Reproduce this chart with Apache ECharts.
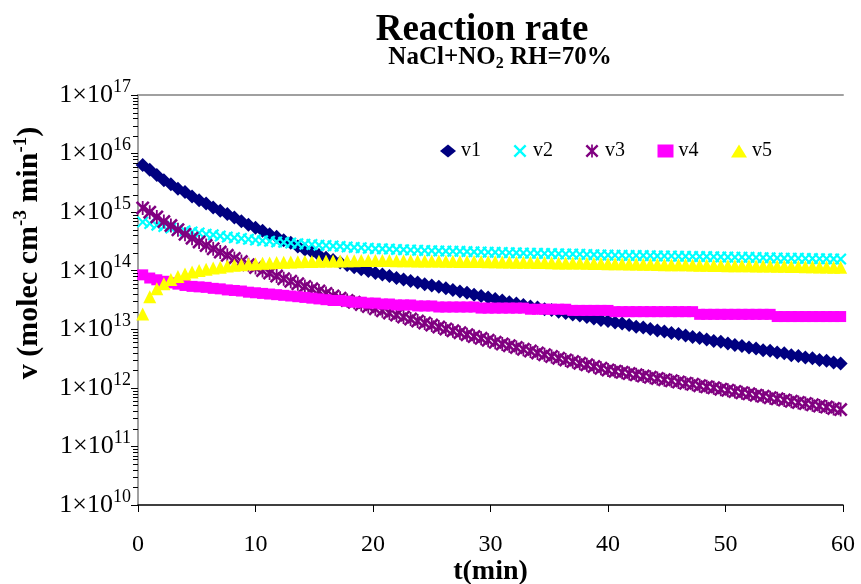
<!DOCTYPE html>
<html><head><meta charset="utf-8">
<script src="https://cdn.jsdelivr.net/npm/echarts@6/dist/echarts.min.js"></script>
<style>html,body{margin:0;padding:0;background:#fff}#c{width:861px;height:584px}</style>
</head><body><div id="c"></div>
<script>
// time (min)
const tMin = [0.4,1.0,1.6,2.2,2.8,3.4,4.0,4.6,5.2,5.8,6.4,7.0,7.6,8.2,8.8,9.4,10.0,10.6,11.2,11.8,
12.4,13.0,13.6,14.2,14.8,15.4,16.0,16.6,17.2,17.8,18.4,19.0,19.6,20.2,20.8,21.4,22.0,22.6,23.2,23.8,
24.4,25.0,25.6,26.2,26.8,27.4,28.0,28.6,29.2,29.8,30.4,31.0,31.6,32.2,32.8,33.4,34.0,34.6,35.2,35.8,
36.4,37.0,37.6,38.2,38.8,39.4,40.0,40.6,41.2,41.8,42.4,43.0,43.6,44.2,44.8,45.4,46.0,46.6,47.2,47.8,
48.4,49.0,49.6,50.2,50.8,51.4,52.0,52.6,53.2,53.8,54.4,55.0,55.6,56.2,56.8,57.4,58.0,58.6,59.2,59.8];

const v1 = [6.4e15,5.3e15,4.3e15,3.5e15,3.0e15,2.5e15,2.2e15,1.85e15,1.6e15,1.4e15,
1.2e15,1.06e15,9.3e14,8.1e14,7.0e14,6.1e14,5.4e14,4.8e14,4.2e14,3.8e14,
3.3e14,3.0e14,2.6e14,2.3e14,2.1e14,1.85e14,1.67e14,1.52e14,1.38e14,1.25e14,
1.15e14,1.06e14,9.9e13,9.1e13,8.6e13,8.1e13,7.5e13,7.1e13,6.7e13,6.3e13,
5.9e13,5.6e13,5.3e13,5.0e13,4.7e13,4.4e13,4.2e13,3.9e13,3.7e13,3.5e13,
3.3e13,3.1e13,2.9e13,2.75e13,2.6e13,2.45e13,2.35e13,2.2e13,2.13e13,2.0e13,
1.9e13,1.78e13,1.72e13,1.62e13,1.53e13,1.44e13,1.38e13,1.3e13,1.25e13,1.18e13,
1.11e13,1.07e13,1.01e13,9.5e12,9.2e12,8.6e12,8.3e12,7.8e12,7.4e12,7.1e12,
6.7e12,6.3e12,6.1e12,5.7e12,5.4e12,5.2e12,4.9e12,4.7e12,4.4e12,4.3e12,
4.0e12,3.9e12,3.6e12,3.5e12,3.3e12,3.2e12,3.0e12,2.9e12,2.7e12,2.6e12];

const v2 = [6.8e14,6.4e14,6.0e14,5.7e14,5.35e14,5.1e14,4.8e14,4.6e14,4.4e14,4.2e14,
4.1e14,3.9e14,3.75e14,3.65e14,3.55e14,3.45e14,3.35e14,3.25e14,3.2e14,3.1e14,
3.05e14,2.97e14,2.9e14,2.84e14,2.8e14,2.73e14,2.69e14,2.64e14,2.6e14,2.55e14,
2.5e14,2.47e14,2.42e14,2.38e14,2.36e14,2.34e14,2.31e14,2.29e14,2.26e14,2.24e14,
2.21e14,2.19e14,2.18e14,2.16e14,2.15e14,2.14e14,2.12e14,2.1e14,2.09e14,2.07e14,
2.06e14,2.05e14,2.03e14,2.02e14,2.0e14,1.99e14,1.98e14,1.97e14,1.96e14,1.94e14,
1.93e14,1.92e14,1.91e14,1.89e14,1.88e14,1.86e14,1.85e14,1.84e14,1.83e14,1.82e14,
1.82e14,1.81e14,1.8e14,1.79e14,1.78e14,1.78e14,1.77e14,1.76e14,1.75e14,1.74e14,
1.74e14,1.73e14,1.72e14,1.71e14,1.7e14,1.7e14,1.69e14,1.68e14,1.67e14,1.66e14,
1.65e14,1.64e14,1.63e14,1.63e14,1.62e14,1.61e14,1.6e14,1.6e14,1.59e14,1.58e14];

const v3 = [1.18e15,1.0e15,8.3e14,6.9e14,5.9e14,5.0e14,4.2e14,3.6e14,3.1e14,2.7e14,
2.37e14,2.08e14,1.83e14,1.62e14,1.43e14,1.27e14,1.13e14,1.01e14,9.1e13,8.1e13,
7.3e13,6.6e13,6.0e13,5.4e13,4.9e13,4.5e13,4.1e13,3.7e13,3.4e13,3.1e13,
2.9e13,2.65e13,2.44e13,2.24e13,2.07e13,1.9e13,1.75e13,1.62e13,1.5e13,1.38e13,
1.28e13,1.18e13,1.09e13,1.01e13,9.4e12,8.75e12,8.1e12,7.5e12,7.0e12,6.5e12,
6.0e12,5.6e12,5.25e12,4.9e12,4.56e12,4.25e12,3.95e12,3.68e12,3.43e12,3.21e12,
3.0e12,2.81e12,2.62e12,2.47e12,2.31e12,2.16e12,2.02e12,1.93e12,1.84e12,1.75e12,
1.67e12,1.59e12,1.52e12,1.45e12,1.38e12,1.32e12,1.26e12,1.2e12,1.15e12,1.09e12,
1.04e12,1.0e12,9.5e11,9.1e11,8.65e11,8.25e11,7.9e11,7.5e11,7.2e11,6.8e11,
6.5e11,6.2e11,5.9e11,5.65e11,5.4e11,5.15e11,4.9e11,4.7e11,4.46e11,4.26e11];

const v4 = [8.5e13,7.5e13,7.0e13,6.6e13,6.2e13,5.9e13,5.6e13,5.4e13,5.3e13,5.2e13,
5.0e13,4.9e13,4.7e13,4.6e13,4.5e13,4.3e13,4.2e13,4.1e13,4.0e13,3.9e13,
3.8e13,3.7e13,3.6e13,3.5e13,3.4e13,3.3e13,3.2e13,3.1e13,3.1e13,3.0e13,
2.9e13,2.9e13,2.8e13,2.8e13,2.7e13,2.7e13,2.6e13,2.6e13,2.6e13,2.5e13,
2.5e13,2.5e13,2.4e13,2.4e13,2.4e13,2.4e13,2.4e13,2.4e13,2.3e13,2.3e13,
2.3e13,2.3e13,2.3e13,2.3e13,2.3e13,2.2e13,2.2e13,2.2e13,2.2e13,2.2e13,
2.2e13,2.1e13,2.1e13,2.1e13,2.1e13,2.1e13,2.1e13,2.0e13,2.0e13,2.0e13,
2.0e13,2.0e13,2.0e13,2.0e13,2.0e13,2.0e13,2.0e13,2.0e13,2.0e13,1.8e13,
1.8e13,1.8e13,1.8e13,1.8e13,1.8e13,1.8e13,1.8e13,1.8e13,1.8e13,1.8e13,
1.65e13,1.65e13,1.65e13,1.65e13,1.65e13,1.65e13,1.65e13,1.65e13,1.65e13,1.65e13];

const v5 = [1.82e13,3.6e13,4.9e13,6.0e13,7.1e13,8.0e13,8.8e13,9.5e13,1.01e14,1.06e14,
1.11e14,1.15e14,1.2e14,1.24e14,1.27e14,1.3e14,1.32e14,1.34e14,1.36e14,1.38e14,
1.39e14,1.41e14,1.42e14,1.43e14,1.44e14,1.45e14,1.46e14,1.46e14,1.47e14,1.48e14,
1.48e14,1.49e14,1.49e14,1.49e14,1.49e14,1.49e14,1.48e14,1.48e14,1.48e14,1.47e14,
1.47e14,1.46e14,1.46e14,1.45e14,1.45e14,1.44e14,1.44e14,1.43e14,1.43e14,1.42e14,
1.42e14,1.41e14,1.41e14,1.4e14,1.4e14,1.39e14,1.38e14,1.38e14,1.37e14,1.36e14,
1.36e14,1.35e14,1.35e14,1.34e14,1.33e14,1.33e14,1.32e14,1.32e14,1.31e14,1.3e14,
1.3e14,1.29e14,1.29e14,1.28e14,1.27e14,1.27e14,1.26e14,1.26e14,1.25e14,1.24e14,
1.24e14,1.23e14,1.23e14,1.22e14,1.22e14,1.21e14,1.21e14,1.2e14,1.2e14,1.2e14,
1.19e14,1.19e14,1.18e14,1.18e14,1.17e14,1.17e14,1.16e14,1.16e14,1.15e14,1.15e14];

const seriesNames = ['v1','v2','v3','v4','v5'];
const seriesColors = ['#000080','#00FFFF','#800080','#FF00FF','#FFFF00'];
const xTicks = [0,10,20,30,40,50,60];
const yExpMin = 10, yExpMax = 17;

const F = 'Liberation Serif, Times New Roman, serif';
const SYM_X = 'path://M0,1.3L1.3,0L5,3.7L8.7,0L10,1.3L6.3,5L10,8.7L8.7,10L5,6.3L1.3,10L0,8.7L3.7,5Z';
const SYM_STAR = SYM_X + 'M4.35,0L5.65,0L5.65,10L4.35,10Z';
const symbols = ['diamond', SYM_X, SYM_STAR, 'rect', 'triangle'];
const sizes = [14, 12, 14, 11, 13];
const datasets = [v1, v2, v3, v4, v5];

const minorTicks = [];
for (let e = yExpMin; e < yExpMax; e++) for (let m = 2; m <= 9; m++) minorTicks.push(m * Math.pow(10, e));

const chart = echarts.init(document.getElementById('c'), null, {renderer: 'canvas'});

const series = seriesNames.map((n, i) => ({
  name: n, type: 'scatter',
  data: tMin.map((t, k) => [t, datasets[i][k]]),
  symbol: symbols[i], symbolSize: sizes[i],
  itemStyle: {color: seriesColors[i], opacity: 1},
  emphasis: {disabled: true},
  animation: false
}));
series.push({
  type: 'custom', name: '_minor', silent: true, clip: false, z: 5, animation: false,
  data: minorTicks.map(v => [0, v]),
  renderItem: function (params, api) {
    const p = api.coord([0, api.value(1)]);
    const y = Math.round(p[1]) + 0.5;
    return {type: 'line', shape: {x1: p[0] - 5, y1: y, x2: p[0], y2: y}, style: {stroke: '#000', lineWidth: 1}};
  }
});

chart.setOption({
  animation: false,
  backgroundColor: '#fff',
  title: [
    {text: 'Reaction rate', left: 482, top: 12, textAlign: 'center', padding: 0,
     textStyle: {fontFamily: F, fontSize: 37, fontWeight: 'bold', color: '#000'}},
    {text: '{a|NaCl+NO}{s|2}{a| RH=70%}', left: 500, top: 44, textAlign: 'center', padding: 0,
     textStyle: {rich: {
       a: {fontFamily: F, fontSize: 25, fontWeight: 'bold', color: '#000', lineHeight: 28},
       s: {fontFamily: F, fontSize: 16, fontWeight: 'bold', color: '#000', lineHeight: 16, verticalAlign: 'bottom'}
     }}}
  ],
  legend: {
    left: 440, top: 141, padding: 0, itemWidth: 16, itemHeight: 13, itemGap: 32.5,
    textStyle: {fontFamily: F, fontSize: 20, color: '#000'},
    data: seriesNames.map((n, i) => ({name: n, icon: symbols[i]}))
  },
  grid: {left: 138, right: 18, top: 95, bottom: 79, show: false, containLabel: false, outerBoundsMode: 'none'},
  xAxis: [{
    type: 'value', min: xTicks[0], max: xTicks[xTicks.length - 1], interval: 10, position: 'bottom',
    axisLine: {show: true, onZero: false, lineStyle: {color: '#000', width: 1.5}},
    axisTick: {show: true, length: 7, lineStyle: {color: '#000'}},
    axisLabel: {margin: 28, fontFamily: F, fontSize: 24, color: '#000'},
    splitLine: {show: false},
    name: 't(min)', nameLocation: 'middle', nameGap: 53, nameMoveOverlap: false,
    nameTextStyle: {fontFamily: F, fontSize: 28, fontWeight: 'bold', color: '#000'}
  }, {
    type: 'value', min: 0, max: 60, position: 'top',
    axisLine: {show: true, onZero: false, lineStyle: {color: '#a0a0a0', width: 2}},
    axisTick: {show: false}, axisLabel: {show: false}, splitLine: {show: false}
  }],
  yAxis: [{
    type: 'log', logBase: 10, min: Math.pow(10, yExpMin), max: Math.pow(10, yExpMax), splitNumber: 7,
    position: 'left',
    axisLine: {show: true, lineStyle: {color: '#000', width: 1.5}},
    axisTick: {show: true, length: 7, lineStyle: {color: '#000'}},
    axisLabel: {
      margin: 7,
      formatter: function (val) { return '{a|1×10}{b|' + Math.round(Math.log10(val)) + '}'; },
      rich: {
        a: {fontFamily: F, fontSize: 26, color: '#000', lineHeight: 34},
        b: {fontFamily: F, fontSize: 18, color: '#000', lineHeight: 18, verticalAlign: 'top'}
      }
    },
    splitLine: {show: false},
    name: '{n|v (molec cm}{s|-3}{n| min}{s|-1}{n|)}', nameLocation: 'middle', nameGap: 92, nameMoveOverlap: false,
    nameTextStyle: {padding: [0, 0, 0, 94], rich: {
      n: {fontFamily: F, fontSize: 30, fontWeight: 'bold', color: '#000', lineHeight: 34},
      s: {fontFamily: F, fontSize: 19, fontWeight: 'bold', color: '#000', lineHeight: 19, verticalAlign: 'top'}
    }}
  }, {
    type: 'value', min: 0, max: 1, position: 'right',
    axisLine: {show: true, lineStyle: {color: '#a0a0a0', width: 2}},
    axisTick: {show: false}, axisLabel: {show: false}, splitLine: {show: false}
  }],
  series: series
});
</script></body></html>
